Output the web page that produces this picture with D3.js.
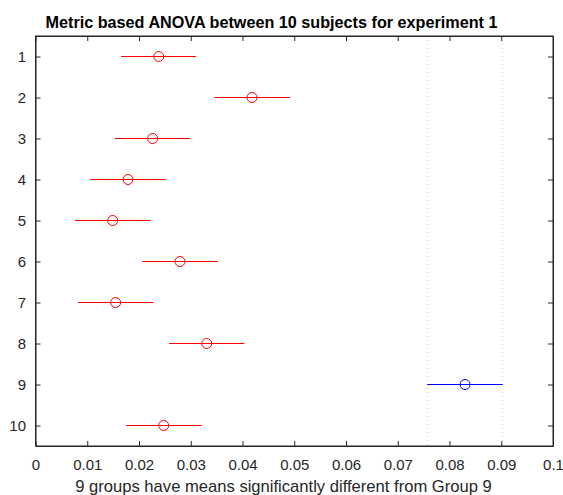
<!DOCTYPE html>
<html><head><meta charset="utf-8">
<script src="https://cdn.jsdelivr.net/npm/d3@7"></script>
<style>body{margin:0;background:#fff}svg{display:block}text{font-family:"Liberation Sans",Arial,sans-serif}</style>
</head><body><svg id="c" width="563" height="495"></svg>
<script>
const groups = ["1","2","3","4","5","6","7","8","9","10"];
const means = [0.02381,0.04184,0.02264,0.01787,0.01491,0.02792,0.01549,0.03308,0.08300,0.02477];
const lower = [0.01652,0.03455,0.01536,0.01060,0.00763,0.02064,0.00821,0.02580,0.07571,0.01749];
const upper = [0.03101,0.04918,0.02986,0.02516,0.02226,0.03521,0.02276,0.04035,0.09028,0.03212];
const selected = 9;
const xTicks = [0,0.01,0.02,0.03,0.04,0.05,0.06,0.07,0.08,0.09,0.1];
const title = "Metric based ANOVA between 10 subjects for experiment 1";
const xLabel = "9 groups have means significantly different from Group 9";

const svg = d3.select("#c");
const L=35.5, R=553, T=36, B=446;
const x = d3.scaleLinear().domain([0,0.1]).range([L,R]);
const y = d3.scaleLinear().domain([0.5,10.5]).range([T,B]);
const ax = "#262626";

// reference lines
const si = selected-1;
svg.selectAll("line.ref").data([lower[si],upper[si]]).join("line")
  .attr("x1",d=>x(d)).attr("x2",d=>x(d)).attr("y1",T).attr("y2",B)
  .attr("stroke","#d0d0d0").attr("stroke-width",1).attr("stroke-dasharray","1,3");

const data = groups.map((g,i)=>({g,i,m:means[i],lo:lower[i],hi:upper[i]}));
const col = d=> d.i===si ? "#0000ff" : "#ff0000";
svg.selectAll("line.ci").data(data).join("line")
  .attr("x1",d=>x(d.lo)).attr("x2",d=>x(d.hi))
  .attr("y1",d=>y(d.i+1)).attr("y2",d=>y(d.i+1))
  .attr("stroke",col).attr("stroke-width",1.2);
svg.selectAll("circle.m").data(data).join("circle")
  .attr("cx",d=>x(d.m)).attr("cy",d=>y(d.i+1)).attr("r",5)
  .attr("fill","none").attr("stroke",col).attr("stroke-width",1);

// axes
const fs = "15px";
const gB = svg.append("g").attr("transform",`translate(0,${B})`)
  .call(d3.axisBottom(x).tickValues(xTicks).tickFormat(d3.format("~g")).tickSizeInner(-5).tickSizeOuter(0).tickPadding(13));
const gT = svg.append("g").attr("transform",`translate(0,${T})`)
  .call(d3.axisTop(x).tickValues(xTicks).tickFormat("").tickSizeInner(-5).tickSizeOuter(0));
const gL = svg.append("g").attr("transform",`translate(${L},0)`)
  .call(d3.axisLeft(y).tickValues(d3.range(1,11)).tickFormat((d)=>groups[d-1]).tickSizeInner(-5).tickSizeOuter(0).tickPadding(9.5));
const gR = svg.append("g").attr("transform",`translate(${R},0)`)
  .call(d3.axisRight(y).tickValues(d3.range(1,11)).tickFormat("").tickSizeInner(-5).tickSizeOuter(0));
[gB,gT,gL,gR].forEach(g=>{
  g.select(".domain").attr("stroke",ax);
  g.selectAll(".tick line").attr("stroke",ax);
  g.selectAll("text").attr("fill",ax).style("font-size",fs).attr("font-family",null);
});
gL.selectAll("text").attr("dy","0.36em");
svg.append("rect").attr("x",L).attr("y",T).attr("width",R-L).attr("height",B-T)
  .attr("fill","none").attr("stroke",ax).attr("stroke-width",1);

svg.append("text").attr("x",271.5).attr("y",28).attr("text-anchor","middle")
  .style("font-size","16.2px").style("font-weight","bold").attr("fill","#000").text(title);
svg.append("text").attr("x",283.5).attr("y",492).attr("text-anchor","middle")
  .style("font-size","16.6px").attr("fill",ax).text(xLabel);
</script></body></html>
